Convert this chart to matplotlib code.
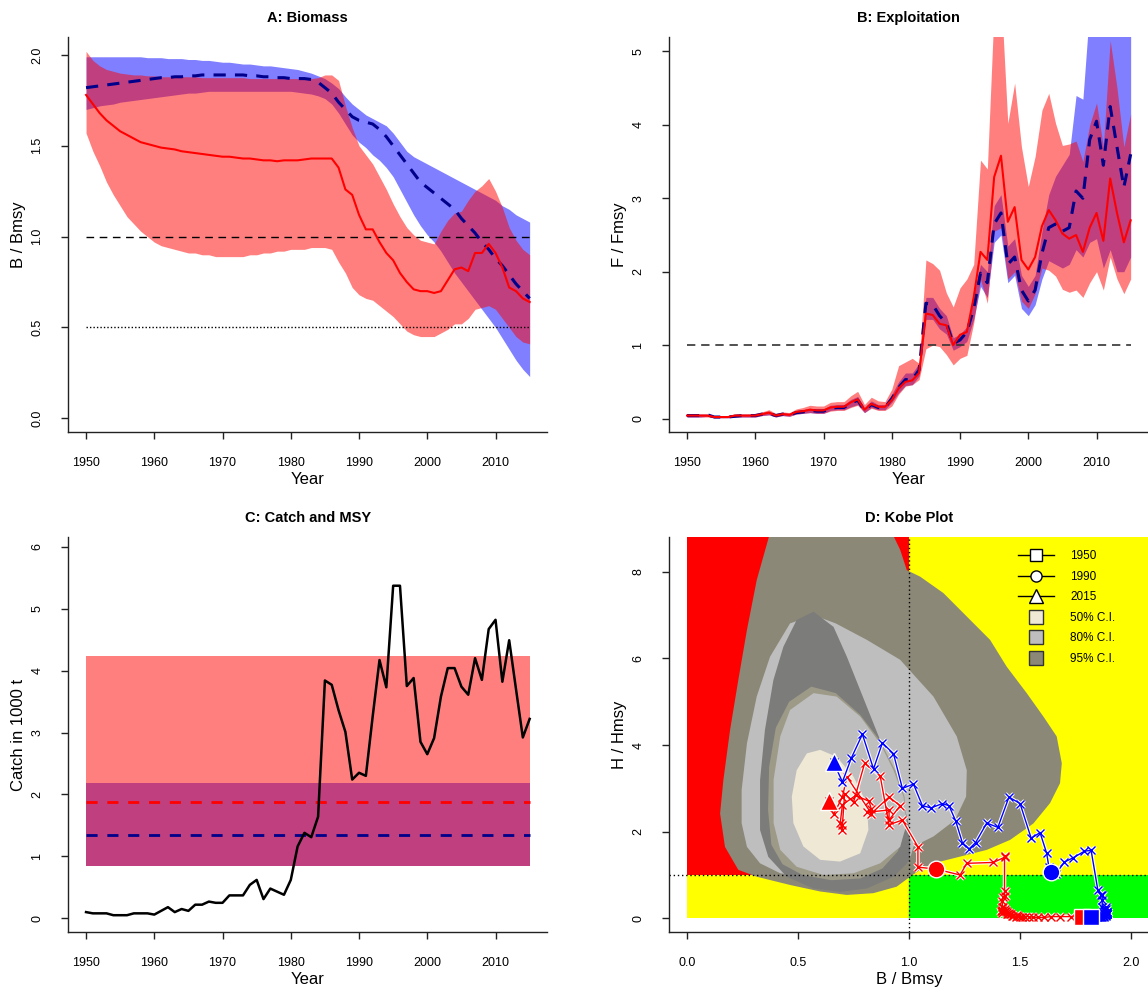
import numpy as np
import matplotlib.pyplot as plt
from matplotlib.lines import Line2D

plt.rcParams['font.family'] = ['Liberation Sans', 'DejaVu Sans']

# ---- data -------------------------------------------------------------
years = np.arange(1950, 2016)

# relative biomass B/Bmsy (red = model 1, blue = model 2)
red_b = [1.78, 1.73, 1.68, 1.64, 1.61, 1.58, 1.56, 1.54, 1.52, 1.51,
         1.50, 1.49, 1.485, 1.48, 1.47, 1.465, 1.46, 1.455, 1.45, 1.445,
         1.44, 1.44, 1.435, 1.43, 1.43, 1.425, 1.42, 1.42, 1.415, 1.42,
         1.42, 1.42, 1.425, 1.43, 1.43, 1.43, 1.43, 1.38, 1.26, 1.23,
         1.12, 1.04, 1.04, 0.97, 0.91, 0.87, 0.80, 0.75, 0.71, 0.70,
         0.70, 0.69, 0.70, 0.76, 0.82, 0.83, 0.81, 0.91, 0.91, 0.96,
         0.91, 0.83, 0.72, 0.70, 0.66, 0.64]
red_b_lo = [1.57, 1.47, 1.39, 1.30, 1.23, 1.17, 1.11, 1.07, 1.03, 1.00,
            0.97, 0.95, 0.94, 0.93, 0.92, 0.91, 0.91, 0.90, 0.90, 0.89,
            0.89, 0.89, 0.89, 0.89, 0.90, 0.90, 0.91, 0.91, 0.92, 0.92,
            0.93, 0.93, 0.93, 0.94, 0.94, 0.94, 0.93, 0.86, 0.80, 0.72,
            0.68, 0.66, 0.65, 0.62, 0.59, 0.56, 0.52, 0.48, 0.46, 0.45,
            0.45, 0.45, 0.47, 0.49, 0.52, 0.52, 0.55, 0.60, 0.61, 0.62,
            0.60, 0.55, 0.50, 0.45, 0.42, 0.41]
red_b_hi = [2.02, 1.97, 1.94, 1.92, 1.91, 1.90, 1.895, 1.89, 1.89, 1.885,
            1.885, 1.88, 1.88, 1.88, 1.88, 1.88, 1.88, 1.875, 1.875, 1.875,
            1.875, 1.875, 1.875, 1.875, 1.87, 1.87, 1.87, 1.87, 1.87, 1.87,
            1.87, 1.87, 1.87, 1.87, 1.875, 1.89, 1.89, 1.86, 1.72, 1.60,
            1.50, 1.45, 1.40, 1.33, 1.26, 1.18, 1.11, 1.05, 1.01, 0.98,
            0.97, 0.96, 1.03, 1.09, 1.13, 1.14, 1.20, 1.25, 1.28, 1.32,
            1.25, 1.16, 1.05, 0.98, 0.93, 0.90]

blue_b = [1.82, 1.825, 1.83, 1.835, 1.84, 1.845, 1.85, 1.855, 1.86, 1.865,
          1.87, 1.875, 1.875, 1.88, 1.88, 1.885, 1.885, 1.89, 1.89, 1.89,
          1.89, 1.89, 1.89, 1.89, 1.885, 1.885, 1.88, 1.88, 1.875, 1.875,
          1.87, 1.87, 1.87, 1.865, 1.85, 1.82, 1.79, 1.74, 1.70, 1.66,
          1.64, 1.63, 1.62, 1.59, 1.55, 1.50, 1.45, 1.40, 1.35, 1.30,
          1.27, 1.24, 1.21, 1.18, 1.15, 1.10, 1.06, 1.02, 0.97, 0.93,
          0.88, 0.84, 0.79, 0.74, 0.70, 0.66]
blue_b_lo = [1.70, 1.71, 1.72, 1.725, 1.73, 1.74, 1.745, 1.75, 1.755, 1.76,
             1.765, 1.77, 1.775, 1.78, 1.785, 1.79, 1.79, 1.795, 1.80, 1.80,
             1.80, 1.80, 1.80, 1.80, 1.80, 1.80, 1.80, 1.80, 1.80, 1.80,
             1.80, 1.795, 1.79, 1.785, 1.775, 1.76, 1.73, 1.68, 1.62, 1.56,
             1.52, 1.49, 1.45, 1.42, 1.38, 1.33, 1.26, 1.19, 1.12, 1.06,
             1.01, 0.97, 0.92, 0.86, 0.80, 0.75, 0.70, 0.65, 0.60, 0.55,
             0.50, 0.44, 0.38, 0.32, 0.27, 0.23]
blue_b_hi = [1.99, 1.99, 1.99, 1.99, 1.99, 1.99, 1.99, 1.99, 1.99, 1.985,
             1.985, 1.985, 1.98, 1.98, 1.98, 1.975, 1.975, 1.97, 1.97, 1.965,
             1.96, 1.96, 1.955, 1.95, 1.95, 1.945, 1.94, 1.94, 1.935, 1.93,
             1.925, 1.92, 1.91, 1.90, 1.885, 1.87, 1.845, 1.815, 1.77, 1.73,
             1.70, 1.67, 1.65, 1.63, 1.61, 1.57, 1.52, 1.47, 1.44, 1.42,
             1.40, 1.38, 1.36, 1.34, 1.32, 1.30, 1.28, 1.26, 1.24, 1.22,
             1.20, 1.17, 1.15, 1.12, 1.10, 1.08]

# relative fishing mortality F/Fmsy
red_f = [0.04, 0.04, 0.04, 0.04, 0.02, 0.02, 0.02, 0.04, 0.04, 0.04,
         0.04, 0.06, 0.08, 0.04, 0.06, 0.05, 0.09, 0.10, 0.12, 0.11,
         0.11, 0.15, 0.16, 0.16, 0.22, 0.26, 0.12, 0.20, 0.16, 0.16,
         0.25, 0.41, 0.50, 0.52, 0.62, 1.43, 1.41, 1.29, 1.27, 1.00,
         1.14, 1.18, 1.65, 2.27, 2.16, 3.29, 3.58, 2.68, 2.88, 2.16,
         2.03, 2.20, 2.62, 2.84, 2.70, 2.52, 2.45, 2.50, 2.27, 2.60,
         2.80, 2.42, 3.27, 2.80, 2.40, 2.70]
red_f_lo = [0.02, 0.02, 0.02, 0.02, 0.01, 0.01, 0.01, 0.02, 0.02, 0.02,
            0.02, 0.04, 0.05, 0.02, 0.04, 0.03, 0.06, 0.07, 0.08, 0.07,
            0.07, 0.10, 0.11, 0.11, 0.15, 0.18, 0.08, 0.14, 0.11, 0.11,
            0.17, 0.33, 0.44, 0.46, 0.53, 0.95, 1.00, 0.98, 0.87, 0.73,
            0.82, 0.86, 1.30, 1.90, 1.57, 2.55, 2.60, 1.90, 2.00, 1.60,
            1.50, 1.70, 2.05, 2.02, 1.94, 1.76, 1.72, 1.75, 1.65, 1.85,
            2.00, 1.75, 2.20, 1.90, 1.70, 1.90]
red_f_hi = [0.07, 0.06, 0.06, 0.06, 0.04, 0.04, 0.04, 0.06, 0.06, 0.06,
            0.07, 0.09, 0.12, 0.07, 0.09, 0.08, 0.13, 0.15, 0.18, 0.17,
            0.17, 0.22, 0.23, 0.23, 0.31, 0.37, 0.19, 0.29, 0.24, 0.23,
            0.40, 0.72, 0.77, 0.82, 0.75, 2.16, 2.11, 2.02, 1.71, 1.52,
            1.78, 1.90, 2.10, 3.52, 3.40, 5.60, 5.80, 4.02, 4.57, 3.70,
            3.16, 3.57, 4.20, 4.43, 4.02, 3.72, 3.74, 3.78, 3.50, 4.00,
            4.30, 3.70, 5.15, 4.50, 3.70, 4.15]

blue_f = [0.04, 0.04, 0.04, 0.05, 0.02, 0.02, 0.02, 0.03, 0.04, 0.04,
          0.04, 0.06, 0.07, 0.04, 0.06, 0.05, 0.08, 0.09, 0.11, 0.10,
          0.10, 0.14, 0.15, 0.15, 0.21, 0.25, 0.11, 0.19, 0.15, 0.15,
          0.27, 0.42, 0.53, 0.53, 0.66, 1.57, 1.55, 1.40, 1.30, 1.02,
          1.07, 1.18, 1.50, 1.98, 1.85, 2.65, 2.80, 2.10, 2.20, 1.75,
          1.60, 1.75, 2.25, 2.60, 2.65, 2.55, 2.60, 3.10, 3.00, 3.80,
          4.05, 3.45, 4.25, 3.70, 3.15, 3.60]
blue_f_lo = [0.02, 0.02, 0.02, 0.03, 0.01, 0.01, 0.01, 0.02, 0.02, 0.02,
             0.02, 0.04, 0.05, 0.02, 0.04, 0.03, 0.06, 0.07, 0.08, 0.07,
             0.07, 0.11, 0.12, 0.12, 0.16, 0.19, 0.08, 0.15, 0.12, 0.12,
             0.22, 0.35, 0.45, 0.46, 0.58, 1.35, 1.35, 1.22, 1.15, 0.93,
             0.98, 1.05, 1.35, 1.80, 1.65, 2.40, 2.50, 1.85, 1.95, 1.50,
             1.40, 1.55, 1.90, 2.15, 2.10, 2.05, 2.10, 2.30, 2.20, 2.40,
             2.45, 2.05, 2.30, 2.00, 2.00, 2.20]
blue_f_hi = [0.06, 0.06, 0.06, 0.06, 0.03, 0.03, 0.03, 0.05, 0.06, 0.06,
             0.06, 0.08, 0.10, 0.06, 0.08, 0.07, 0.11, 0.12, 0.14, 0.13,
             0.13, 0.18, 0.19, 0.19, 0.26, 0.30, 0.15, 0.24, 0.19, 0.19,
             0.33, 0.50, 0.62, 0.62, 0.75, 1.65, 1.65, 1.50, 1.40, 1.10,
             1.15, 1.25, 1.70, 2.10, 2.00, 2.90, 3.05, 2.35, 2.45, 1.95,
             1.80, 1.95, 2.55, 3.05, 3.30, 3.45, 3.60, 4.40, 4.35, 5.60,
             6.00, 5.50, 6.50, 6.00, 5.50, 6.00]

# catch in 1000 t
catch = [0.10, 0.08, 0.08, 0.08, 0.05, 0.05, 0.05, 0.08, 0.08, 0.08,
         0.06, 0.12, 0.18, 0.10, 0.15, 0.12, 0.22, 0.22, 0.27, 0.25,
         0.25, 0.37, 0.37, 0.37, 0.54, 0.62, 0.31, 0.48, 0.43, 0.38,
         0.62, 1.16, 1.38, 1.31, 1.64, 3.84, 3.77, 3.36, 3.01, 2.24,
         2.35, 2.30, 3.26, 4.17, 3.73, 5.37, 5.37, 3.75, 3.88, 2.85,
         2.65, 2.91, 3.58, 4.04, 4.04, 3.74, 3.61, 4.20, 3.85, 4.67,
         4.82, 3.82, 4.49, 3.70, 2.92, 3.22]

# MSY estimates with confidence limits (red model, blue model)
msy_red, msy_red_lo, msy_red_hi = 1.88, 0.84, 4.23
msy_blue, msy_blue_lo, msy_blue_hi = 1.35, 0.84, 2.18

# Kobe confidence regions (B/Bmsy, F/Fmsy outlines)
ci95_b = [0.37, 0.314, 0.27, 0.231, 0.194, 0.164, 0.149, 0.171, 0.231, 0.314,
          0.464, 0.599, 0.719, 0.839, 0.944, 1.005, 1.05, 1.11, 1.35, 1.455,
          1.56, 1.635, 1.68, 1.688, 1.665, 1.605, 1.53, 1.44, 1.365, 1.26,
          1.155, 1.05, 0.99, 0.96, 0.93, 0.93, 0.37]
ci95_f = [8.83, 7.81, 6.66, 5.5, 4.35, 3.2, 2.42, 1.65, 1.12, 0.96,
          0.77, 0.62, 0.54, 0.58, 0.73, 0.96, 1.12, 1.27, 1.58, 1.81,
          2.19, 2.66, 3.12, 3.58, 4.2, 4.66, 5.2, 5.81, 6.43, 6.97,
          7.51, 7.89, 8.04, 8.51, 8.83, 9.5, 9.5]
ci80_b = [0.464, 0.374, 0.314, 0.27, 0.246, 0.246, 0.27, 0.329, 0.42, 0.6,
          0.85, 1.0, 1.02, 1.11, 1.207, 1.257, 1.26, 1.215, 1.11, 0.96,
          0.81, 0.67, 0.57]
ci80_f = [6.81, 6.04, 5.12, 4.04, 2.96, 2.2, 1.65, 1.27, 1.04, 0.9,
          0.95, 1.3, 1.66, 1.89, 2.27, 2.81, 3.42, 4.2, 5.12, 5.97,
          6.43, 6.81, 7.0]
ci95b_b = [0.57, 0.494, 0.434, 0.389, 0.351, 0.329, 0.329, 0.366, 0.449, 0.569,
           0.689, 0.81, 0.93, 1.005, 1.005, 0.96, 0.90, 0.84, 0.78, 0.72, 0.66]
ci95b_f = [7.08, 6.89, 6.27, 5.5, 4.35, 3.19, 2.04, 1.42, 0.96, 0.69,
           0.61, 0.69, 0.96, 1.34, 2.04, 2.96, 3.73, 4.5, 5.27, 6.04, 6.73]
ci80b_b = [0.56, 0.46, 0.40, 0.37, 0.365, 0.38, 0.43, 0.52, 0.65, 0.78,
           0.88, 0.95, 0.985, 0.98, 0.94, 0.87, 0.78, 0.67]
ci80b_f = [5.35, 5.0, 4.4, 3.5, 2.5, 1.7, 1.25, 1.0, 0.88, 0.92,
           1.15, 1.55, 2.1, 2.8, 3.4, 4.1, 4.7, 5.2]
ci80c_b = [0.57, 0.464, 0.42, 0.39, 0.39, 0.42, 0.494, 0.615, 0.75, 0.87,
           0.96, 0.99, 0.975, 0.93, 0.87, 0.78, 0.674]
ci80c_f = [5.2, 4.81, 4.2, 3.2, 2.2, 1.58, 1.19, 1.0, 1.04, 1.27,
           1.65, 2.2, 2.81, 3.42, 4.04, 4.66, 5.12]
ci50_b = [0.60, 0.54, 0.494, 0.472, 0.479, 0.524, 0.60, 0.689, 0.78, 0.817,
          0.81, 0.75, 0.674]
ci50_f = [3.89, 3.81, 3.42, 2.81, 2.2, 1.66, 1.35, 1.31, 1.50, 2.04,
          2.65, 3.27, 3.73]

# ---- figure -----------------------------------------------------------
W, H = 1148, 999
fig = plt.figure(figsize=(W / 100, H / 100), dpi=100)


def add_axes_px(left, top, right, bottom):
    return fig.add_axes([left / W, 1 - bottom / H, (right - left) / W, (bottom - top) / H])


ax_a = add_axes_px(68.3, 36.8, 547.4, 432.3)
ax_b = add_axes_px(669.3, 36.8, 1148.4, 432.3)
ax_c = add_axes_px(68.3, 536.8, 547.4, 932.3)
ax_d = add_axes_px(669.3, 536.8, 1148.4, 932.3)

RED = '#FF0000'
NAVY = '#00008B'
BAND_RED = (1, 0, 0, 0.5)
BAND_BLUE = (0, 0, 1, 0.5)


def r_style(ax, title, xlabel, ylabel, yfmt):
    for s in ['top', 'right']:
        ax.spines[s].set_visible(False)
    for s in ['left', 'bottom']:
        ax.spines[s].set_linewidth(1.0)
        ax.spines[s].set_color('#222222')
    ax.tick_params(direction='out', length=5, width=1.0, color='#222222', labelsize=9)
    ax.tick_params(axis='x', pad=13)
    ax.tick_params(axis='y', pad=13, labelrotation=90)
    ax.set_yticklabels([yfmt.format(v) for v in ax.get_yticks()], va='center')
    ax.set_title(title, fontsize=10.5, fontweight='bold', pad=11)
    ax.set_xlabel(xlabel, fontsize=12, labelpad=2)
    ax.set_ylabel(ylabel, fontsize=12, labelpad=4)


# A: Biomass
ax_a.fill_between(years, blue_b_lo, blue_b_hi, color=BAND_BLUE, lw=0)
ax_a.fill_between(years, red_b_lo, red_b_hi, color=BAND_RED, lw=0)
ax_a.hlines(1.0, years[0], years[-1], color='black', lw=1, linestyle=(0, (5.5, 4)))
ax_a.hlines(0.5, years[0], years[-1], color='black', lw=1, linestyle=(0, (1, 1.5)))
ax_a.plot(years, blue_b, color=NAVY, lw=2.2, linestyle=(0, (4, 3)))
ax_a.plot(years, red_b, color=RED, lw=1.5)
ax_a.set_xlim(1947.4, 2017.6)
ax_a.set_ylim(-0.077, 2.10)
ax_a.set_xticks(range(1950, 2011, 10))
ax_a.set_yticks([0, 0.5, 1.0, 1.5, 2.0])
r_style(ax_a, 'A: Biomass', 'Year', 'B / Bmsy', '{:.1f}')

# B: Exploitation
ax_b.fill_between(years, blue_f_lo, blue_f_hi, color=BAND_BLUE, lw=0)
ax_b.fill_between(years, red_f_lo, red_f_hi, color=BAND_RED, lw=0)
ax_b.hlines(1.0, years[0], years[-1], color='#333333', lw=1.2, linestyle=(0, (5, 3.5)))
ax_b.plot(years, blue_f, color=NAVY, lw=2.2, linestyle=(0, (4, 3)))
ax_b.plot(years, red_f, color=RED, lw=1.5)
ax_b.set_xlim(1947.4, 2017.6)
ax_b.set_ylim(-0.188, 5.20)
ax_b.set_xticks(range(1950, 2011, 10))
ax_b.set_yticks(range(0, 6))
r_style(ax_b, 'B: Exploitation', 'Year', 'F / Fmsy', '{:.0f}')

# C: Catch and MSY
ax_c.fill_between([years[0], years[-1]], msy_blue_lo, msy_blue_hi, color=BAND_BLUE, lw=0)
ax_c.fill_between([years[0], years[-1]], msy_red_lo, msy_red_hi, color=BAND_RED, lw=0)
ax_c.hlines(msy_red, years[0], years[-1], color=RED, lw=2, linestyle=(0, (4, 3.5)))
ax_c.hlines(msy_blue, years[0], years[-1], color=NAVY, lw=2, linestyle=(0, (4, 3.5)))
ax_c.plot(years, catch, color='black', lw=1.8)
ax_c.set_xlim(1947.4, 2017.6)
ax_c.set_ylim(-0.226, 6.16)
ax_c.set_xticks(range(1950, 2011, 10))
ax_c.set_yticks(range(0, 7))
r_style(ax_c, 'C: Catch and MSY', 'Year', 'Catch in 1000 t', '{:.0f}')

# D: Kobe plot
ax_d.set_xlim(-0.0797, 2.078)
ax_d.set_ylim(-0.323, 8.81)
ax_d.fill_between([0, 1], 1, 20, color='#FF0000', lw=0)
ax_d.fill_between([0, 1], 0, 1, color='#FFFF00', lw=0)
ax_d.fill_between([1, 5], 1, 20, color='#FFFF00', lw=0)
ax_d.fill_between([1, 5], 0, 1, color='#00FF00', lw=0)

ax_d.fill(ci95_b, ci95_f, color='#8B8878', lw=0)
ax_d.fill(ci80_b, ci80_f, color='#BEBEBE', lw=0)
ax_d.fill(ci95b_b, ci95b_f, color='#7C7C7A', lw=0)
ax_d.fill(ci80b_b, ci80b_f, color='#9D9A88', lw=0)
ax_d.fill(ci80c_b, ci80c_f, color='#BEBEBE', lw=0)
ax_d.fill(ci50_b, ci50_f, color='#EEE8D5', lw=0)

ax_d.axvline(1.0, color='black', lw=1, linestyle=(0, (1, 2)))
ax_d.axhline(1.0, color='black', lw=1, linestyle=(0, (1, 2)))

i1990 = list(years).index(1990)
for bb, ff, col in [(red_b, red_f, RED), (blue_b, blue_f, '#0000FF')]:
    ax_d.plot(bb, ff, color='white', lw=2.5, marker='x', ms=6, mew=2.5)
    ax_d.plot(bb, ff, color=col, lw=1, marker='x', ms=6, mew=1)
    ax_d.plot(bb[0], ff[0], marker='s', ms=12, color=col, mec='white', mew=1)
    ax_d.plot(bb[i1990], ff[i1990], marker='o', ms=12, color=col, mec='white', mew=1)
    ax_d.plot(bb[-1], ff[-1], marker='^', ms=13, color=col, mec='white', mew=1)

ax_d.set_xticks([0, 0.5, 1.0, 1.5, 2.0])
ax_d.set_xticklabels(['0.0', '0.5', '1.0', '1.5', '2.0'])
ax_d.set_yticks([0, 2, 4, 6, 8])
r_style(ax_d, 'D: Kobe Plot', 'B / Bmsy', 'H / Hmsy', '{:.0f}')

handles = [
    Line2D([], [], color='black', lw=1, marker='s', ms=8, mfc='white', mec='black'),
    Line2D([], [], color='black', lw=1, marker='o', ms=8, mfc='white', mec='black'),
    Line2D([], [], color='black', lw=1, marker='^', ms=10, mfc='white', mec='black'),
    Line2D([], [], ls='none', marker='s', ms=10, mfc='#EEE8D5', mec='#333333'),
    Line2D([], [], ls='none', marker='s', ms=10, mfc='#BEBEBE', mec='#333333'),
    Line2D([], [], ls='none', marker='s', ms=10, mfc='#8B8878', mec='#333333'),
]
labels = ['1950', '1990', '2015', '50% C.I.', '80% C.I.', '95% C.I.']
ax_d.legend(handles, labels, loc='upper left', bbox_to_anchor=(0.728, 0.966),
            frameon=False, fontsize=8.5, handlelength=3, handletextpad=1.4,
            labelspacing=0.72, borderpad=0, borderaxespad=0)

fig.savefig('out.png', dpi=100)
